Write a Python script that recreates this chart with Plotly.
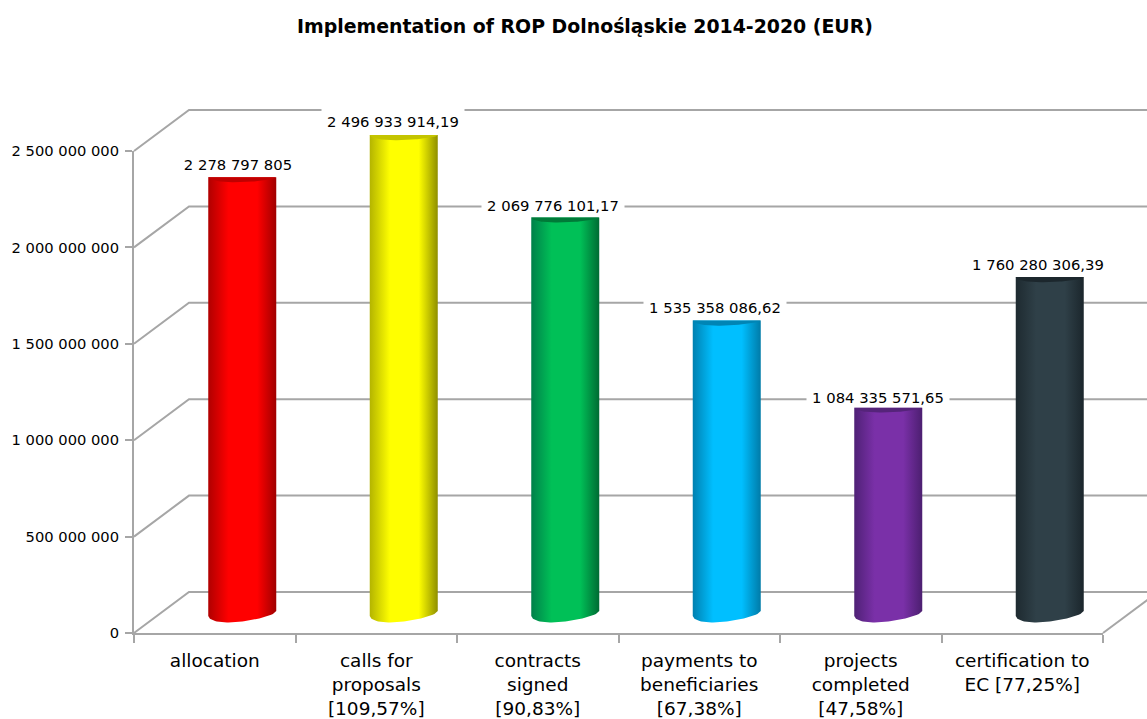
import numpy as np
import plotly.graph_objects as go

categories = [
    "allocation",
    "calls for<br>proposals<br>[109,57%]",
    "contracts<br>signed<br>[90,83%]",
    "payments to<br>beneficiaries<br>[67,38%]",
    "projects<br>completed<br>[47,58%]",
    "certification to<br>EC [77,25%]",
]
values = [2278797805, 2496933914.19, 2069776101.17, 1535358086.62, 1084335571.65, 1760280306.39]
value_labels = [
    "2 278 797 805", "2 496 933 914,19", "2 069 776 101,17",
    "1 535 358 086,62", "1 084 335 571,65", "1 760 280 306,39",
]
y_ticks = [0, 500000000, 1000000000, 1500000000, 2000000000, 2500000000]
y_ticktext = ["0", "500 000 000", "1 000 000 000", "1 500 000 000", "2 000 000 000", "2 500 000 000"]

# left edge, centre, right edge and cap colour of each cylinder
bar_colors = [
    ("#b00000", "#ff0000", "#a00000", "#c00000"),
    ("#b4b400", "#ffff00", "#8f8f00", "#c4c400"),
    ("#00804a", "#00c057", "#006b33", "#007a38"),
    ("#0080b0", "#00bfff", "#007ba8", "#0085b5"),
    ("#4f2176", "#7a30a8", "#4c1f70", "#55247a"),
    ("#1e2a30", "#2f4048", "#1b262c", "#1c272d"),
]

# pixel scales of the page
PX_X = 6 / 969
PX_Y = 2500000000 / 482
DEPTH_X = 55 * PX_X
DEPTH_Y = 41 * PX_Y
BASE_Y = 16.5 * PX_Y
BAR_W = 68 * PX_X
GRID = "#a6a6a6"

# label offsets from the top of each bar (px), placed by hand in the original
label_dx = [-4, -11, -12, -12, -10, -12]
label_dy = [13, 14, 12, 13, 10, 13]
label_h = [20, 24, 20, 20, 20, 20]

fig = go.Figure()

# back wall, side wall and floor
for t in y_ticks:
    fig.add_trace(go.Scatter(
        x=[0, DEPTH_X, 6 + DEPTH_X], y=[t, t + DEPTH_Y, t + DEPTH_Y],
        mode="lines", line=dict(color=GRID, width=2), hoverinfo="skip",
    ))
fig.add_trace(go.Scatter(
    x=[6, 6 + DEPTH_X], y=[0, DEPTH_Y],
    mode="lines", line=dict(color=GRID, width=2), hoverinfo="skip",
))

u = np.linspace(-1, 1, 41)
for i, v in enumerate(values):
    cx = i + 0.5 + DEPTH_X / 2
    xs = cx + u * BAR_W / 2
    left, mid, right, cap = bar_colors[i]
    top = v + BASE_Y
    # tilted lower rim and the lens of the cap
    rim = BASE_Y + (2.5 * u - 8 * np.sqrt(1 - u ** 2) * (1 - 0.2 * u) + 3) * PX_Y
    lens = top - 5 * np.sqrt(1 - u ** 2) * (1 - 0.25 * u) * PX_Y
    fig.add_trace(go.Scatter(
        x=[xs[0], xs[-1]] + list(xs[::-1]), y=[top, top] + list(rim[::-1]),
        mode="lines", line=dict(width=0), fill="toself",
        fillgradient=dict(type="horizontal", colorscale=[
            [0, left], [0.3, mid], [0.72, mid], [1, right],
        ]),
        hoverinfo="skip",
    ))
    fig.add_trace(go.Scatter(
        x=list(xs), y=list(lens),
        mode="lines", line=dict(width=0), fill="toself", fillcolor=cap,
        hoverinfo="skip",
    ))
    fig.add_annotation(
        x=cx, y=top, text=value_labels[i], showarrow=False,
        xshift=label_dx[i], yshift=label_dy[i], yanchor="middle",
        width=142, height=label_h[i], bgcolor="white", borderpad=0,
        font=dict(size=14.8, color="black"),
    )

# visible axes sit on their own subplot, the drawing itself fills the whole page
fig.add_trace(go.Scatter(
    x=[i + 0.5 for i in range(6)], y=values, mode="none",
    xaxis="x2", yaxis="y2", hoverinfo="skip",
))
fig.update_layout(
    xaxis=dict(
        domain=[0, 1], range=[-134 * PX_X, (1147 - 134) * PX_X], visible=False,
    ),
    yaxis=dict(
        domain=[0, 1], range=[-86 * PX_Y, 633 * PX_Y], visible=False,
    ),
    xaxis2=dict(
        domain=[134 / 1147, 1103 / 1147], anchor="y2",
        range=[0, 6], tickvals=[i + 0.5 for i in range(6)], ticktext=categories,
        ticks="", showgrid=False, zeroline=False,
        showline=True, linecolor=GRID, linewidth=2,
        minor=dict(ticks="outside", tick0=0, dtick=1, ticklen=8, tickcolor=GRID, tickwidth=2, showgrid=False),
        tickfont=dict(size=18.5, color="black"), tickangle=0, ticklabelstandoff=10,
    ),
    yaxis2=dict(
        domain=[86 / 719, (719 - 151) / 719], anchor="x2",
        range=[0, 2500000000], tickvals=y_ticks, ticktext=y_ticktext,
        ticks="outside", ticklen=7, tickcolor=GRID, tickwidth=2,
        showgrid=False, zeroline=False,
        showline=True, linecolor=GRID, linewidth=2,
        tickfont=dict(size=14.7, color="black"), ticklabelstandoff=3,
    ),
    title=dict(
        text="<b>Implementation of ROP Dolnośląskie 2014-2020 (EUR)</b>",
        x=0.51, xanchor="center", y=1 - 26 / 719, yanchor="middle",
        font=dict(size=18.9, color="black"),
    ),
    font=dict(family="DejaVu Sans"),
    width=1147, height=719, showlegend=False,
    margin=dict(l=0, r=0, t=0, b=0, pad=0, autoexpand=False),
    plot_bgcolor="rgba(0,0,0,0)", paper_bgcolor="white",
)
fig.write_html(
    "out.html", config={"displayModeBar": False},
    post_script="document.body.style.margin='0';",
)
